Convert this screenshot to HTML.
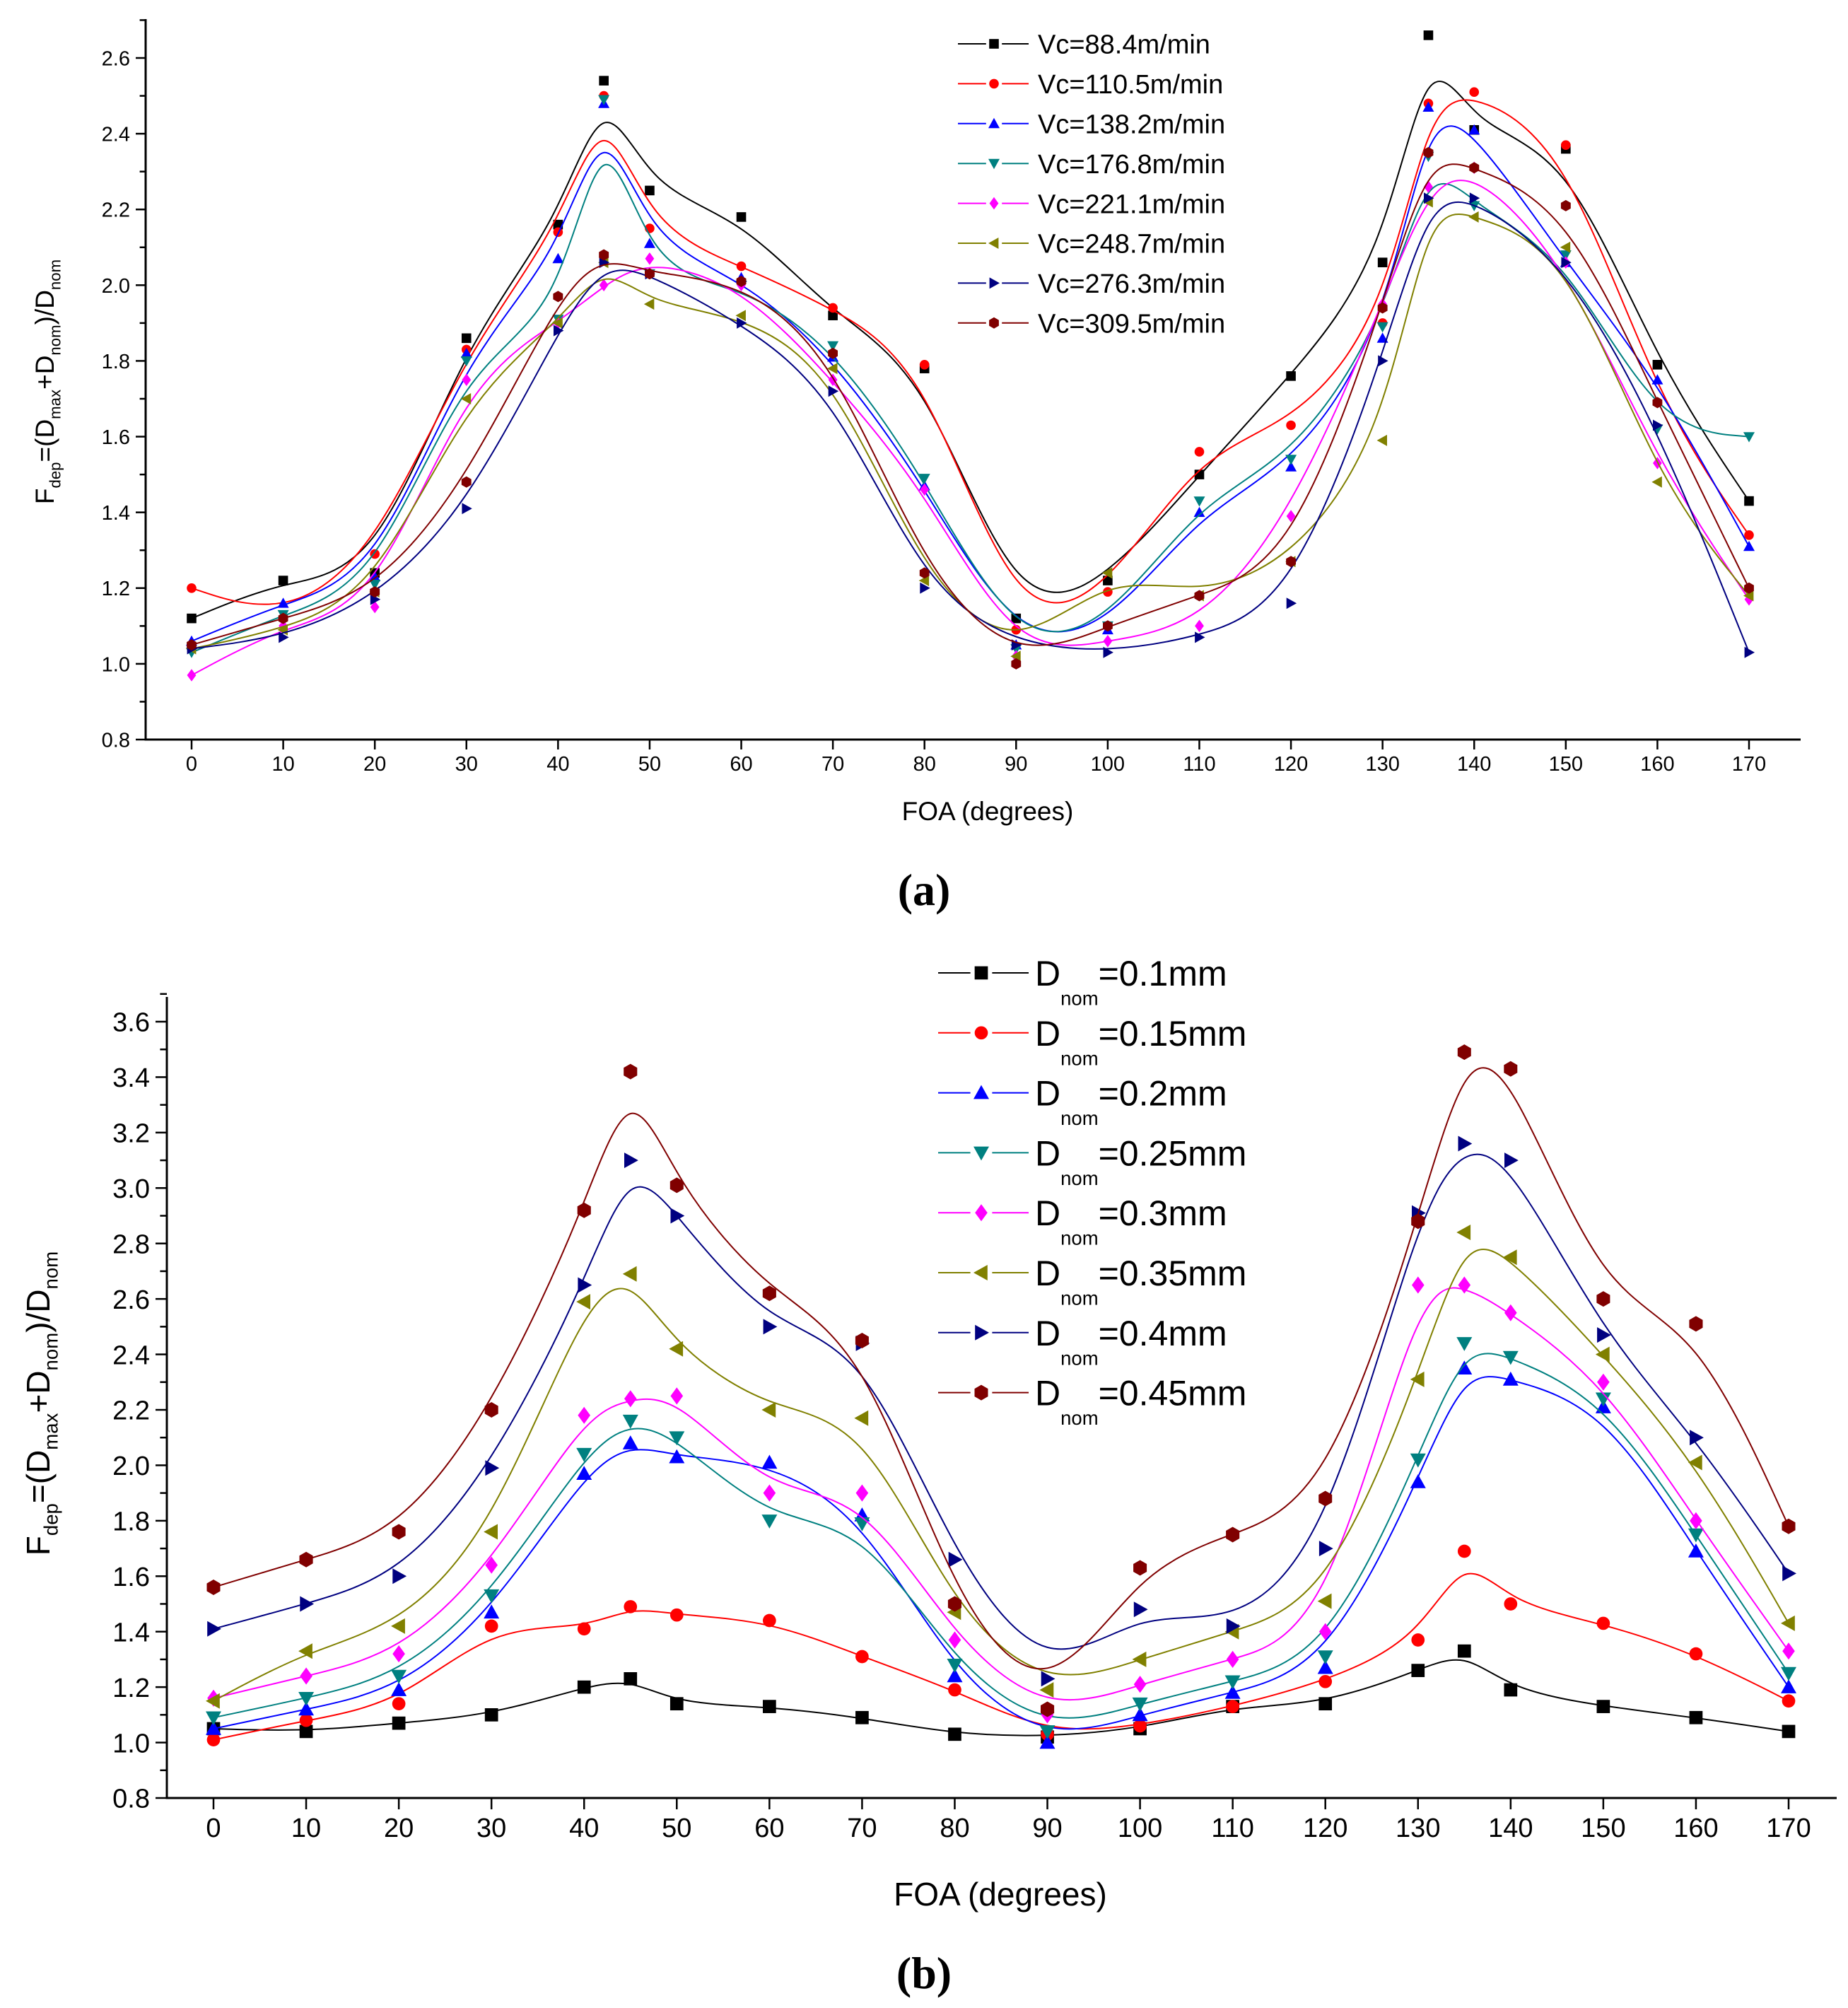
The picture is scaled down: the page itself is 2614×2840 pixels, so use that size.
<!DOCTYPE html>
<html><head><meta charset="utf-8"><style>
html,body{margin:0;padding:0;background:#fff}
svg{display:block}
text{font-family:"Liberation Sans",Arial,sans-serif}
</style></head><body>
<svg id="chart" xmlns="http://www.w3.org/2000/svg" width="2614" height="2840" viewBox="0 0 2614 2840">
<rect width="2614" height="2840" fill="#fff"/>
<text x="1307" y="1280" style="font-family:'Liberation Serif',serif" font-size="64" font-weight="bold" text-anchor="middle">(a)</text>
<text x="1307" y="2812" style="font-family:'Liberation Serif',serif" font-size="64" font-weight="bold" text-anchor="middle">(b)</text>
</svg>
<script>
const xCats = [0,10,20,30,40,45,50,60,70,80,90,100,110,120,130,135,140,150,160,170];
const xTicks = [0,10,20,30,40,50,60,70,80,90,100,110,120,130,140,150,160,170];
const colors = ["#000000","#ff0000","#0000ff","#008080","#ff00ff","#808000","#000080","#800000"];
const markers = ["square","circle","up","down","diamond","left","right","hex"];

const namesA = ["Vc=88.4m/min","Vc=110.5m/min","Vc=138.2m/min","Vc=176.8m/min","Vc=221.1m/min","Vc=248.7m/min","Vc=276.3m/min","Vc=309.5m/min"];
const a1 = [1.12,1.22,1.24,1.86,2.16,2.54,2.25,2.18,1.92,1.78,1.12,1.22,1.50,1.76,2.06,2.66,2.41,2.36,1.79,1.43];
const a2 = [1.20,1.12,1.29,1.83,2.14,2.50,2.15,2.05,1.94,1.79,1.09,1.19,1.56,1.63,1.90,2.48,2.51,2.37,1.69,1.34];
const a3 = [1.06,1.16,1.23,1.82,2.07,2.48,2.11,2.02,1.81,1.47,1.05,1.09,1.40,1.52,1.86,2.47,2.41,2.06,1.75,1.31];
const a4 = [1.03,1.13,1.21,1.80,1.91,2.49,2.03,2.00,1.84,1.49,1.04,1.10,1.43,1.54,1.89,2.34,2.21,2.08,1.62,1.60];
const a5 = [0.97,1.10,1.15,1.75,1.90,2.00,2.07,2.00,1.75,1.46,1.02,1.06,1.10,1.39,1.95,2.26,2.31,2.06,1.53,1.17];
const a6 = [1.04,1.09,1.19,1.70,1.90,2.06,1.95,1.92,1.78,1.22,1.02,1.24,1.18,1.27,1.59,2.22,2.18,2.10,1.48,1.18];
const a7 = [1.04,1.07,1.17,1.41,1.88,2.06,2.03,1.90,1.72,1.20,1.05,1.03,1.07,1.16,1.80,2.23,2.23,2.06,1.63,1.03];
const a8 = [1.05,1.12,1.19,1.48,1.97,2.08,2.03,2.01,1.82,1.24,1.00,1.10,1.18,1.27,1.94,2.35,2.31,2.21,1.69,1.20];
const yTicksA = [0.8,1.0,1.2,1.4,1.6,1.8,2.0,2.2,2.4,2.6];

const namesB = ["0.1mm","0.15mm","0.2mm","0.25mm","0.3mm","0.35mm","0.4mm","0.45mm"];
const b1 = [1.05,1.04,1.07,1.10,1.20,1.23,1.14,1.13,1.09,1.03,1.02,1.05,1.13,1.14,1.26,1.33,1.19,1.13,1.09,1.04];
const b2 = [1.01,1.08,1.14,1.42,1.41,1.49,1.46,1.44,1.31,1.19,1.03,1.06,1.13,1.22,1.37,1.69,1.50,1.43,1.32,1.15];
const b3 = [1.05,1.12,1.19,1.47,1.97,2.08,2.03,2.01,1.82,1.24,1.00,1.10,1.18,1.27,1.94,2.35,2.31,2.21,1.69,1.20];
const b4 = [1.09,1.16,1.24,1.53,2.04,2.16,2.10,1.80,1.79,1.28,1.04,1.14,1.22,1.31,2.02,2.44,2.39,2.24,1.75,1.25];
const b5 = [1.16,1.24,1.32,1.64,2.18,2.24,2.25,1.90,1.90,1.37,1.10,1.21,1.30,1.40,2.65,2.65,2.55,2.30,1.80,1.33];
const b6 = [1.15,1.33,1.42,1.76,2.59,2.69,2.42,2.20,2.17,1.47,1.19,1.30,1.40,1.51,2.31,2.84,2.75,2.40,2.01,1.43];
const b7 = [1.41,1.50,1.60,1.99,2.65,3.10,2.90,2.50,2.44,1.66,1.23,1.48,1.42,1.70,2.91,3.16,3.10,2.47,2.10,1.61];
const b8 = [1.56,1.66,1.76,2.20,2.92,3.42,3.01,2.62,2.45,1.50,1.12,1.63,1.75,1.88,2.88,3.49,3.43,2.60,2.51,1.78];
const yTicksB = [0.8,1.0,1.2,1.4,1.6,1.8,2.0,2.2,2.4,2.6,2.8,3.0,3.2,3.4,3.6];

const NS = "http://www.w3.org/2000/svg";
const svg = document.getElementById("chart");
function mk(tag, attrs, parent){const e=document.createElementNS(NS,tag);for(const k in attrs)e.setAttribute(k,attrs[k]);(parent||svg).appendChild(e);return e;}

function marker(g,type,x,y,s,color){
  let e; const r=s/2;
  if(type==="square") e=mk("rect",{x:x-r*0.85,y:y-r*0.85,width:s*0.85,height:s*0.85,fill:color},g);
  else if(type==="circle") e=mk("circle",{cx:x,cy:y,r:r*0.85,fill:color},g);
  else if(type==="hex"){let p=[];for(let i=0;i<6;i++){const a=Math.PI/6+i*Math.PI/3;p.push((x+r*Math.cos(a)).toFixed(1)+","+(y+r*Math.sin(a)).toFixed(1));}e=mk("polygon",{points:p.join(" "),fill:color},g);}
  else { let pts;
    if(type==="up") pts=[[0,-r],[r,r*0.8],[-r,r*0.8]];
    else if(type==="down") pts=[[0,r],[r,-r*0.8],[-r,-r*0.8]];
    else if(type==="left") pts=[[-r,0],[r*0.8,-r],[r*0.8,r]];
    else if(type==="right") pts=[[r,0],[-r*0.8,-r],[-r*0.8,r]];
    else pts=[[0,-r*1.1],[r*0.8,0],[0,r*1.1],[-r*0.8,0]];
    e=mk("polygon",{points:pts.map(p=>(x+p[0]).toFixed(1)+","+(y+p[1]).toFixed(1)).join(" "),fill:color},g);}
  return e;
}

function bspline(P){
  const Q=[P[0],P[0],...P,P[P.length-1],P[P.length-1]];
  let d="";
  for(let i=1;i<Q.length-2;i++){
    const p0=Q[i-1],p1=Q[i],p2=Q[i+1],p3=Q[i+2];
    const s=[(p0[0]+4*p1[0]+p2[0])/6,(p0[1]+4*p1[1]+p2[1])/6];
    const c1=[(2*p1[0]+p2[0])/3,(2*p1[1]+p2[1])/3];
    const c2=[(p1[0]+2*p2[0])/3,(p1[1]+2*p2[1])/3];
    const e=[(p1[0]+4*p2[0]+p3[0])/6,(p1[1]+4*p2[1]+p3[1])/6];
    if(i===1) d+="M"+s[0].toFixed(1)+","+s[1].toFixed(1);
    d+=" C"+c1.map(v=>v.toFixed(1))+" "+c2.map(v=>v.toFixed(1))+" "+e.map(v=>v.toFixed(1));
  }
  return d;
}

function drawPanel(cfg){
  const X=v=>cfg.x0+(v-0)*(cfg.x170-cfg.x0)/170;
  const Y=v=>cfg.yLo+(v-cfg.vLo)*(cfg.yHi-cfg.yLo)/(cfg.vHi-cfg.vLo);
  const g=mk("g",{});
  
  
  const ax=mk("path",{d:`M${cfg.ax},${cfg.top} L${cfg.ax},${cfg.bottom} L${cfg.right},${cfg.bottom}`,stroke:"#000","stroke-width":3,fill:"none"},g);
  
  
  xTicks.forEach(t=>{
    mk("line",{x1:X(t),x2:X(t),y1:cfg.bottom,y2:cfg.bottom+cfg.tickLen,stroke:"#000","stroke-width":2.5},g);
    const tx=mk("text",{x:X(t),y:cfg.bottom+cfg.xLabOff,"font-size":cfg.tickFont,"text-anchor":"middle"},g);
    tx.textContent=t;
    
    
  });
  const vStep=0.1;
  for(let v=cfg.vLo;v<=cfg.vTop+1e-6;v+=vStep){
    const major=Math.abs(Math.round(v*5)-v*5)<1e-6;
    mk("line",{x1:cfg.ax-(major?cfg.tickLen:cfg.tickLen*0.6),x2:cfg.ax,y1:Y(v),y2:Y(v),stroke:"#000","stroke-width":2.5},g);
  }
  cfg.yTicks.forEach(t=>{
    const tx=mk("text",{x:cfg.ax-cfg.yLabOff,y:Y(t)+cfg.tickFont*0.36,"font-size":cfg.tickFont,"text-anchor":"end"},g);
    tx.textContent=t.toFixed(1);
    
    
  });
  const xt=mk("text",{x:cfg.xTitleX,y:cfg.xTitleY,"font-size":cfg.titleFont,"text-anchor":"middle"},g);
  xt.textContent="FOA (degrees)";
  
  
  const yt=mk("text",{x:0,y:0,"font-size":cfg.titleFont,"text-anchor":"middle",transform:`translate(${cfg.yTitleX},${cfg.yTitleY}) rotate(-90)`},g);
  
  
  const fs=cfg.titleFont, ss=fs*0.6;
  yt.innerHTML=`F<tspan font-size="${ss}" dy="${fs*0.25}">dep</tspan><tspan dy="${-fs*0.25}">=(D</tspan><tspan font-size="${ss}" dy="${fs*0.25}">max</tspan><tspan dy="${-fs*0.25}">+D</tspan><tspan font-size="${ss}" dy="${fs*0.25}">nom</tspan><tspan dy="${-fs*0.25}">)/D</tspan><tspan font-size="${ss}" dy="${fs*0.25}">nom</tspan>`;
  cfg.series.forEach((vals,i)=>{
    const sg=mk("g",{},g);
    
    
    const pts=xCats.map((c,j)=>[X(c),Y(vals[j])]);
    const ln=mk("path",{d:bspline(pts),stroke:colors[i],"stroke-width":2,fill:"none"},sg);
    
    
    pts.forEach(p=>{
      const m=marker(sg,markers[i],p[0],p[1],cfg.ms,colors[i]);
      
      
    });
    const ly=cfg.legY+i*cfg.legDy;
    const lg=mk("g",{},g);
    
    
    mk("line",{x1:cfg.legX1,x2:cfg.legX2,y1:ly,y2:ly,stroke:colors[i],"stroke-width":2},lg);
    mk("rect",{x:cfg.legSym-cfg.ms*0.7,y:ly-cfg.ms*0.7,width:cfg.ms*1.4,height:cfg.ms*1.4,fill:"#fff"},lg);
    marker(lg,markers[i],cfg.legSym,ly,cfg.ms,colors[i]);
    const t=mk("text",{x:cfg.legText,y:ly+cfg.legFont*0.36,"font-size":cfg.legFont},lg);
    if(cfg.id==="panel-a") t.textContent=cfg.names[i];
    else t.innerHTML=`D<tspan font-size="${cfg.legFont*0.55}" dy="${cfg.legFont*0.55}">nom</tspan><tspan dy="${-cfg.legFont*0.55}">=${cfg.names[i]}</tspan>`;
  });
}

drawPanel({id:"panel-a",x0:271,x170:2474,yLo:1046,yHi:82,vLo:0.8,vHi:2.6,vTop:2.7,
  ax:206,top:27,bottom:1046,right:2547,tickLen:14,tickFont:29,xLabOff:44,yLabOff:22,
  titleFont:37,xTitleX:1397,xTitleY:1160,yTitleX:76,yTitleY:540,
  series:[a1,a2,a3,a4,a5,a6,a7,a8],yTicks:yTicksA,names:namesA,ms:16,
  legY:62,legDy:56.4,legX1:1355,legX2:1455,legSym:1406,legText:1468,legFont:38});
drawPanel({id:"panel-b",x0:302,x170:2530,yLo:2543,yHi:1445,vLo:0.8,vHi:3.6,vTop:3.7,
  ax:236,top:1410,bottom:2543,right:2598,tickLen:16,tickFont:38,xLabOff:55,yLabOff:24,
  titleFont:46,xTitleX:1415,xTitleY:2695,yTitleX:70,yTitleY:1985,
  series:[b1,b2,b3,b4,b5,b6,b7,b8],yTicks:yTicksB,names:namesB,ms:22,
  legY:1376,legDy:84.8,legX1:1327,legX2:1455,legSym:1388,legText:1464,legFont:50});
</script>
</body></html>
